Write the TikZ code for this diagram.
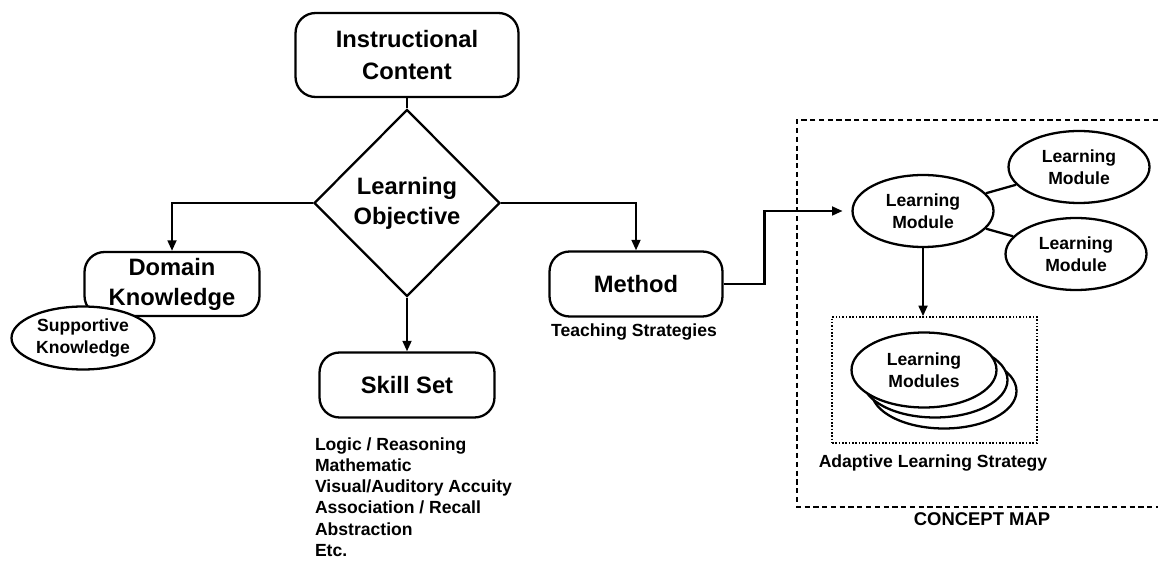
\documentclass[tikz,border=0pt]{standalone}
\usepackage{fontspec}
\setmainfont{Liberation Sans}
\usetikzlibrary{arrows.meta,positioning,shapes.geometric}

\begin{document}
\begin{tikzpicture}[x=0.02cm,y=-0.02cm,line width=1.3pt,
    bigtxt/.style={font=\fontsize{13.5}{17}\selectfont\bfseries},
    smalltxt/.style={font=\fontsize{10}{12.5}\selectfont\bfseries},
    flowbox/.style={draw,rounded corners=0.4cm,fill=white,align=center,inner sep=2pt,bigtxt},
    module/.style={draw,ellipse,fill=white,align=center,inner sep=1pt,smalltxt,
                   minimum width=2.82cm,minimum height=1.44cm},
    arr/.style={-{Triangle[length=6pt,width=5pt]}}]
  \useasboundingbox (0,0) rectangle (1158,563);

  \node[flowbox,font=\fontsize{13.5}{18.5}\selectfont\bfseries,
        minimum width=4.46cm,minimum height=1.68cm] (content) at (407,55) {Instructional\\Content};
  \node[draw,diamond,align=center,inner sep=0pt,bigtxt,
        minimum width=3.72cm,minimum height=3.74cm] (objective) at (407,203) {Learning\\Objective};
  \node[flowbox,minimum width=3.5cm,minimum height=1.28cm] (domain) at (172,284) {Domain\\Knowledge};
  \node[module,minimum width=2.86cm,minimum height=1.26cm] (support) at (83,338) {Supportive\\Knowledge};
  \node[flowbox,minimum width=3.5cm,minimum height=1.3cm] (skills) at (407,385) {Skill Set};
  \node[smalltxt,anchor=north west,align=left,font=\fontsize{10}{12}\selectfont\bfseries]
       (skilllist) at (308,431) {Logic / Reasoning\\Mathematic\\Visual/Auditory Accuity\\
                                 Association / Recall\\Abstraction\\Etc.};
  \node[flowbox,minimum width=3.46cm,minimum height=1.3cm] (method) at (636,284) {Method};
  \node[smalltxt] (teaching) at (634,332) {Teaching Strategies};

  % concept map
  \draw[densely dashed,line width=1pt] (1158,120) -- (797,120) -- (797,507) -- (1158,507);
  \node[font=\fontsize{10.5}{12}\selectfont\bfseries] (cmlabel) at (982,519) {CONCEPT MAP};
  \node[module] (lmmain) at (923,211) {Learning\\Module};
  \node[module] (lmtop) at (1079,167) {Learning\\Module};
  \node[module] (lmbot) at (1076,254) {Learning\\Module};
  \node[draw,densely dotted,line width=0.9pt,minimum width=4.1cm,minimum height=2.52cm]
       (adaptive) at (934.5,380) {};
  \node[module,minimum width=2.9cm,minimum height=1.5cm] (stackc) at (944,391) {};
  \node[module,minimum width=2.9cm,minimum height=1.5cm] (stackb) at (935,380) {};
  \node[module,minimum width=2.9cm,minimum height=1.5cm] (stacka) at (924,370) {Learning\\Modules};
  \node[smalltxt] (adaptlabel) at (933,463) {Adaptive Learning Strategy};

  \draw (content) -- (objective);
  \draw[arr] (objective.west) -| (domain.north);
  \draw[arr] (objective.east) -| (method.north);
  \draw[arr] (objective.south) -- (skills.north);
  \draw[arr,shorten >=5pt] (method.east) -- ++(41,0) |- (lmmain.west);
  \draw (lmmain) -- (lmtop);
  \draw (lmmain) -- (lmbot);
  \draw[arr] (lmmain.south) -- (lmmain.south |- adaptive.north);
\end{tikzpicture}
\end{document}
